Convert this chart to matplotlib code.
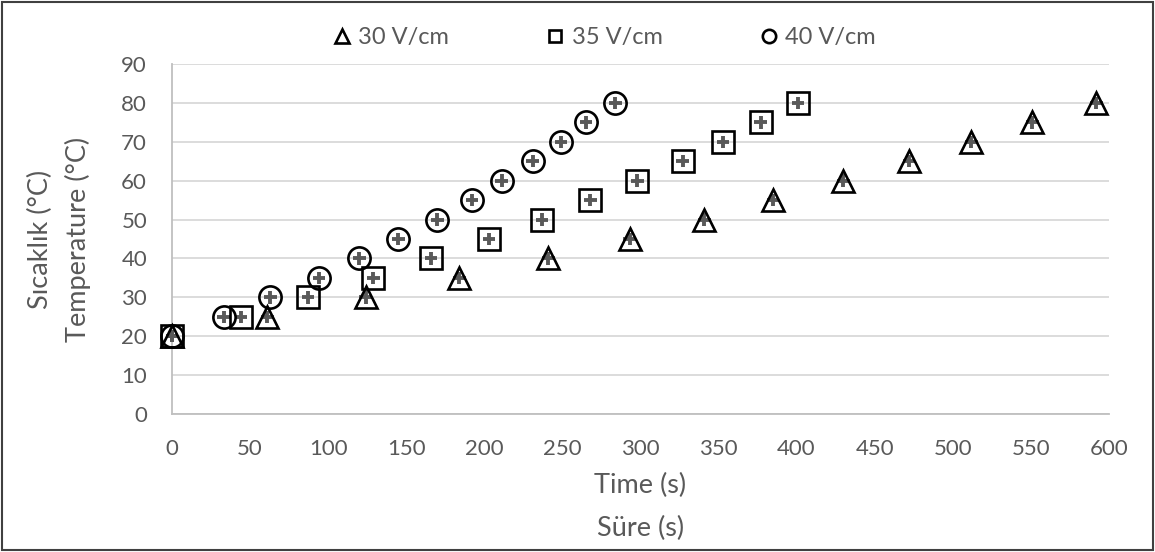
import matplotlib.pyplot as plt
from matplotlib.patches import Rectangle

plt.rcParams['font.family'] = ['Lato', 'DejaVu Sans']

# Temperature steps (same for all three series)
temp = [20, 25, 30, 35, 40, 45, 50, 55, 60, 65, 70, 75, 80]

# Time (s) to reach each temperature
t_30 = [0, 61, 124, 184, 241, 293, 341, 385, 430, 472, 512, 551, 592]
t_35 = [0, 44, 87, 129, 166, 203, 237, 268, 298, 327, 353, 377, 401]
t_40 = [0, 33, 63, 94, 120, 145, 170, 192, 211, 231, 249, 265, 284]

# small error bars drawn inside markers
x_err = [4] * 13
y_err = [1.6] * 13

labels = ['30 V/cm', '35 V/cm', '40 V/cm']
grey = '#595959'

fig = plt.figure(figsize=(11.55, 5.52), dpi=100)
ax = fig.add_axes([0.149, 0.25, 0.811, 0.634])

series = [(t_30, '^', 16.5), (t_35, 's', 15.5), (t_40, 'o', 16)]
for (t, m, ms), lab in zip(series, labels):
    ax.errorbar(t, temp, xerr=x_err, yerr=y_err, fmt='none', ecolor=grey,
                elinewidth=2.8, capsize=0, zorder=3, clip_on=False)
    ax.plot(t, temp, linestyle='none', marker=m, markersize=ms,
            markerfacecolor='none', markeredgecolor='black',
            markeredgewidth=1.9, label=lab, zorder=4, clip_on=False)

ax.set_xlim(0, 600)
ax.set_ylim(0, 90)
ax.set_xticks(range(0, 601, 50))
ax.set_yticks(range(0, 91, 10))
ax.grid(axis='y', color='#d9d9d9', linewidth=1.3)
ax.set_axisbelow(True)
for s in ['top', 'right']:
    ax.spines[s].set_visible(False)
for s in ['left', 'bottom']:
    ax.spines[s].set_color('#bfbfbf')
    ax.spines[s].set_linewidth(1.3)
ax.tick_params(length=0, labelsize=16, labelcolor=grey)
ax.tick_params(axis='y', pad=18)
ax.tick_params(axis='x', pad=18)

ax.set_xlabel('Time (s)\nSüre (s)', fontsize=19.5, color=grey, linespacing=1.9,
              labelpad=10)
ax.set_ylabel('Sıcaklık (°C)\nTemperature (°C)', fontsize=19.5, color=grey,
              linespacing=1.55, labelpad=22)

leg = ax.legend(loc='lower center', bbox_to_anchor=(0.46, 0.985), ncol=3,
                frameon=False, fontsize=17, markerscale=0.6,
                handletextpad=0.2, columnspacing=4.0, handlelength=1)
for txt in leg.get_texts():
    txt.set_color(grey)

fig.patches.append(Rectangle((0.002, 0.003), 0.996, 0.994, transform=fig.transFigure,
                             fill=False, edgecolor='#404040', linewidth=1.5))

fig.savefig('out.png', dpi=100)
